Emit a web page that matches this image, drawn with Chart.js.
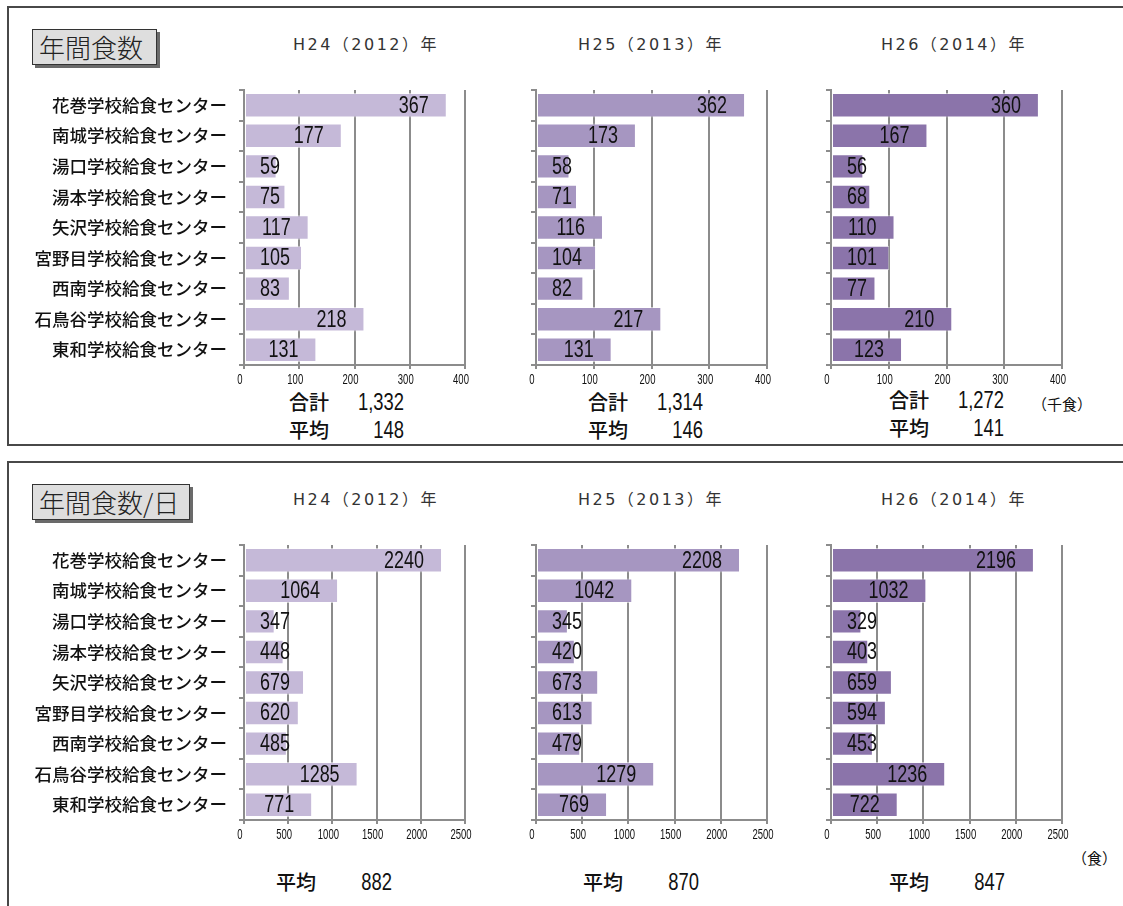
<!DOCTYPE html>
<html>
<head>
<meta charset="utf-8">
<script src="https://cdn.jsdelivr.net/npm/chart.js@4.4.1/dist/chart.umd.min.js"></script>
<style>
  body { margin: 0; background: #fff; width: 1123px; height: 906px; overflow: hidden; position: relative; font-family: "Noto Sans CJK JP", sans-serif; }
  .panel { position: absolute; left: 7px; width: 1140px; border: 2px solid #484848; box-sizing: border-box; }
  .tag { position: absolute; left: 32px; height: 36px; box-sizing: border-box; border: 1px solid #333; background: #dedede;
         box-shadow: 3px 3px 0 #6a6a6a; font-size: 26px; line-height: 33px; padding-left: 6px; color: #222; font-weight: 300; }
  .year { position: absolute; width: 240px; text-align: center; font-family: "DejaVu Sans", "Noto Sans CJK JP", sans-serif;
          font-size: 16px; letter-spacing: 2.5px; line-height: 24px; color: #333; font-weight: 400; }
  .lbl { position: absolute; font-size: 20px; line-height: 26px; color: #111; font-weight: 500; }
  .num { position: absolute; width: 100px; text-align: right; font-family: "Liberation Sans", sans-serif;
         font-size: 23px; line-height: 26px; color: #111; transform: scaleX(0.8); transform-origin: right center; }
  .unit { position: absolute; font-size: 15px; line-height: 20px; color: #111; }
  canvas { position: absolute; }
</style>
</head>
<body>
<div class="panel" style="top:6px;height:440px;"></div>
<div class="panel" style="top:461px;height:460px;"></div>
<div class="tag" style="top:29px;width:125px;">年間食数</div>
<div class="tag" style="top:484px;width:158px;">年間食数/日</div>
<div id="texts"></div>

<canvas id="m0" width="470" height="310" style="left:10px;top:80px;"></canvas>
<canvas id="m1" width="260" height="310" style="left:520px;top:80px;"></canvas>
<canvas id="m2" width="260" height="310" style="left:815px;top:80px;"></canvas>
<canvas id="d0" width="470" height="310" style="left:10px;top:535px;"></canvas>
<canvas id="d1" width="260" height="310" style="left:520px;top:535px;"></canvas>
<canvas id="d2" width="260" height="310" style="left:815px;top:535px;"></canvas>

<script>
const centers = ['花巻学校給食センター', '南城学校給食センター', '湯口学校給食センター', '湯本学校給食センター',
  '矢沢学校給食センター', '宮野目学校給食センター', '西南学校給食センター', '石鳥谷学校給食センター', '東和学校給食センター'];
const years = ['H24（2012）年', 'H25（2013）年', 'H26（2014）年'];

// 年間食数 (千食)
const meals2012 = [367, 177, 59, 75, 117, 105, 83, 218, 131];
const meals2013 = [362, 173, 58, 71, 116, 104, 82, 217, 131];
const meals2014 = [360, 167, 56, 68, 110, 101, 77, 210, 123];
const mealTotals = ['1,332', '1,314', '1,272'];
const mealAvgs = [148, 146, 141];

// 年間食数/日 (食)
const daily2012 = [2240, 1064, 347, 448, 679, 620, 485, 1285, 771];
const daily2013 = [2208, 1042, 345, 420, 673, 613, 479, 1279, 769];
const daily2014 = [2196, 1032, 329, 403, 659, 594, 453, 1236, 722];
const dailyAvgs = [882, 870, 847];

const barColors = ['#c5b9d8', '#a696c1', '#8b74aa'];

// narrow digits: Liberation Sans squeezed horizontally
function narrowText(ctx, text, x, y, size, squeeze, align) {
  ctx.save();
  ctx.font = size + 'px "Liberation Sans", sans-serif';
  ctx.textAlign = align;
  ctx.textBaseline = 'middle';
  ctx.translate(x, y);
  ctx.scale(squeeze, 1);
  ctx.fillText(text, 0, 0);
  ctx.restore();
}

// value label: inside the bar end, pushed right when the bar is too short
const valueLabels = {
  id: 'valueLabels',
  afterDatasetsDraw(chart) {
    const ctx = chart.ctx;
    const left = chart.chartArea.left;
    ctx.save();
    ctx.fillStyle = '#111';
    ctx.font = '23px "Liberation Sans", sans-serif';
    chart.getDatasetMeta(0).data.forEach((bar, i) => {
      const text = String(chart.data.datasets[0].data[i]);
      const w = ctx.measureText(text).width * 0.78;
      const x = Math.max(bar.x - 18, left + 16 + w);
      narrowText(ctx, text, x, bar.y + 1, 23, 0.78, 'right');
    });
    ctx.restore();
  }
};

// x tick labels, drawn from the x scale ticks
const tickLabels = {
  id: 'tickLabels',
  afterDraw(chart) {
    const sx = chart.scales.x;
    const ctx = chart.ctx;
    ctx.save();
    ctx.fillStyle = '#111';
    sx.ticks.forEach(t => {
      narrowText(ctx, String(t.value), sx.getPixelForValue(t.value) - 4, sx.top + 15, 14, 0.68, 'center');
    });
    ctx.restore();
  }
};

function makeChart(id, values, color, max, step, withNames) {
  const yWidth = withNames ? 234 : 16;
  return new Chart(document.getElementById(id), {
    type: 'bar',
    data: {
      labels: centers,
      datasets: [{
        data: values,
        backgroundColor: color,
        borderColor: 'rgba(255,255,255,0.55)',
        borderWidth: 1,
        borderSkipped: false,
        barPercentage: 0.8,
        categoryPercentage: 1.0
      }]
    },
    options: {
      indexAxis: 'y',
      responsive: false,
      animation: false,
      events: [],
      layout: {
        padding: { top: 10, right: withNames ? 15 : 13, left: 0, bottom: 0 }
      },
      plugins: {
        legend: { display: false },
        tooltip: { enabled: false }
      },
      scales: {
        x: {
          min: 0,
          max: max,
          ticks: { stepSize: step, autoSkip: false, display: false },
          grid: { color: '#8c8c8c', lineWidth: 2, tickLength: 4 },
          border: { color: '#8c8c8c', width: 2 },
          afterFit: function(scale) {
            scale.height = 25;
            scale.paddingLeft = 0;
            scale.paddingRight = 0;
          }
        },
        y: {
          ticks: {
            display: withNames,
            padding: 12,
            color: '#111',
            font: { family: '"Noto Sans CJK JP", sans-serif', size: 17.5, weight: '500' }
          },
          grid: { drawOnChartArea: false, color: '#8c8c8c', lineWidth: 2, tickLength: 5, offset: true },
          border: { color: '#8c8c8c', width: 2 },
          afterFit: function(scale) {
            scale.width = yWidth;
            scale.paddingTop = 0;
            scale.paddingBottom = 0;
          }
        }
      }
    },
    plugins: [valueLabels, tickLabels]
  });
}

const mealSets = [meals2012, meals2013, meals2014];
const dailySets = [daily2012, daily2013, daily2014];
mealSets.forEach((v, i) => makeChart('m' + i, v, barColors[i], 400, 100, i === 0));
dailySets.forEach((v, i) => makeChart('d' + i, v, barColors[i], 2500, 500, i === 0));

// titles and summary texts
const box = document.getElementById('texts');
function put(cls, text, left, top) {
  const d = document.createElement('div');
  d.className = cls;
  d.textContent = text;
  d.style.left = left + 'px';
  d.style.top = top + 'px';
  box.appendChild(d);
}
const titleCenters = [366, 651, 954];
const labelLefts = [289, 588, 889];
const numRights = [404, 703, 1004];
years.forEach((y, i) => {
  put('year', y, titleCenters[i] - 120, 33);
  put('year', y, titleCenters[i] - 120, 488);
  const dy = i === 2 ? -2 : 0;
  put('lbl', '合計', labelLefts[i], 389 + dy);
  put('num', mealTotals[i], numRights[i] - 100, 389 + dy);
  put('lbl', '平均', labelLefts[i], 417 + dy);
  put('num', String(mealAvgs[i]), numRights[i] - 100, 417 + dy);
});
const dLabelLefts = [276, 583, 889];
const dNumRights = [392, 699, 1005];
dailyAvgs.forEach((a, i) => {
  put('lbl', '平均', dLabelLefts[i], 869);
  put('num', String(a), dNumRights[i] - 100, 869);
});
put('unit', '（千食）', 1032, 394);
put('unit', '（食）', 1072, 848);
</script>
</body>
</html>
